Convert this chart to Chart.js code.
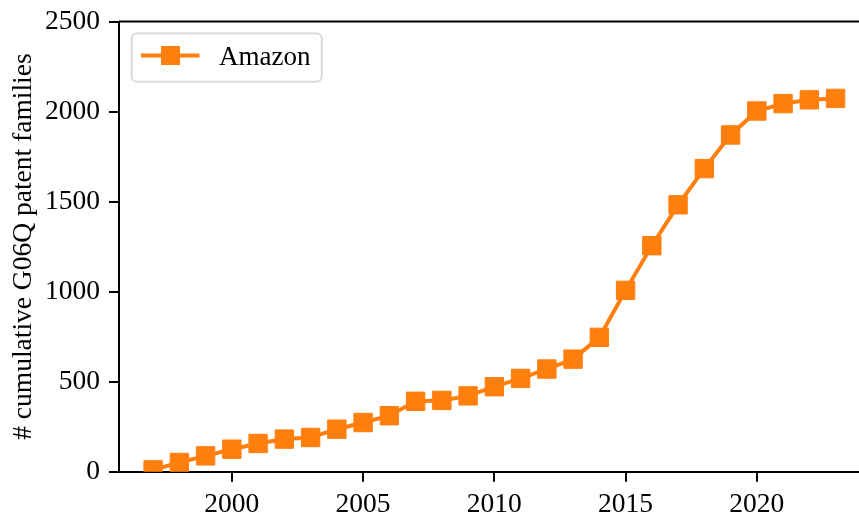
<!DOCTYPE html>
<html><head><meta charset="utf-8">
<script src="https://cdn.jsdelivr.net/npm/chart.js@4/dist/chart.umd.min.js"></script>
<style>
html,body{margin:0;padding:0;background:#fff;overflow:hidden;width:859px;height:515px}
#wrap{position:absolute;left:0;top:0;width:900px;height:515px}
</style></head><body>
<div id="wrap"><canvas id="c" width="900" height="515"></canvas></div>
<script>
// ---- data ----
const years = [1997,1998,1999,2000,2001,2002,2003,2004,2005,2006,2007,2008,2009,2010,2011,2012,2013,2014,2015,2016,2017,2018,2019,2020,2021,2022,2023];
const amazon = [10,51,88,125,157,181,190,236,273,311,391,396,421,472,518,570,625,746,1007,1255,1482,1683,1870,2003,2044,2065,2073];
const seriesName = 'Amazon';
const xTickValues = [2000,2005,2010,2015,2020];
const yTickValues = [0,500,1000,1500,2000,2500];
const yTitle = '# cumulative G06Q patent families';

const ORANGE = '#ff7f0e';
const FONT = "'Liberation Serif','Times New Roman','DejaVu Serif',serif";

const framePlugin = {
  id: 'frame',
  afterDatasetsDraw(chart) {
    const {ctx, chartArea: a} = chart;
    ctx.save();
    ctx.strokeStyle = '#000';
    ctx.lineWidth = 2;
    ctx.beginPath();
    ctx.moveTo(a.left, a.top);
    ctx.lineTo(a.right, a.top);
    ctx.stroke();
    ctx.restore();
  }
};

const legendPlugin = {
  id: 'boxLegend',
  afterDraw(chart) {
    const ctx = chart.ctx;
    const ds = chart.data.datasets[0];
    const x = 131.7, y = 33.3, w = 190, h = 48.4, r = 5;
    ctx.save();
    ctx.fillStyle = 'rgba(255,255,255,0.8)';
    ctx.strokeStyle = '#d6d6d6';
    ctx.lineWidth = 1.8;
    ctx.beginPath();
    ctx.roundRect(x, y, w, h, r);
    ctx.fill();
    ctx.stroke();
    ctx.strokeStyle = ds.borderColor;
    ctx.lineWidth = ds.borderWidth;
    ctx.beginPath();
    ctx.moveTo(141, 55.5);
    ctx.lineTo(199.5, 55.5);
    ctx.stroke();
    ctx.fillStyle = ds.backgroundColor;
    ctx.fillRect(170.5 - 9.5, 55.5 - 9.5, 19, 19);
    ctx.fillStyle = '#000';
    ctx.font = '27px ' + FONT;
    ctx.textBaseline = 'alphabetic';
    ctx.textAlign = 'left';
    ctx.fillText(ds.label, 219, 65);
    ctx.restore();
  }
};

new Chart(document.getElementById('c'), {
  type: 'line',
  data: {
    datasets: [{
      label: seriesName,
      data: years.map((yr, i) => ({x: yr, y: amazon[i]})),
      borderColor: ORANGE,
      backgroundColor: ORANGE,
      borderWidth: 4,
      pointStyle: 'rect',
      pointRadius: 13,
      pointBorderWidth: 1,
      pointBorderColor: ORANGE,
      pointBackgroundColor: ORANGE,
      tension: 0,
      clip: 0
    }]
  },
  options: {
    responsive: false,
    animation: false,
    devicePixelRatio: 1,
    layout: {autoPadding: false, padding: {left: 0, right: 30.3, top: 21.5, bottom: 0}},
    plugins: {legend: {display: false}, tooltip: {enabled: false}},
    scales: {
      x: {
        type: 'linear',
        min: 1995.7,
        max: 2024.3,
        afterBuildTicks(s) { s.ticks = xTickValues.map(v => ({value: v})); },
        afterFit(s) { s.height = 43.3; s.paddingLeft = 0; s.paddingRight = 0; },
        grid: {display: true, drawOnChartArea: false, drawTicks: true, tickLength: 10, color: '#000', lineWidth: 2},
        border: {display: true, color: '#000', width: 2},
        ticks: {
          color: '#000', padding: 7, maxRotation: 0, autoSkip: false,
          font: {family: FONT, size: 27.5},
          callback: v => String(v)
        }
      },
      y: {
        min: 0,
        max: 2500,
        afterBuildTicks(s) { s.ticks = yTickValues.map(v => ({value: v})); },
        afterFit(s) { s.width = 119; s.paddingTop = 0; s.paddingBottom = 0; },
        grid: {display: true, drawOnChartArea: false, drawTicks: true, tickLength: 10, color: '#000', lineWidth: 2},
        border: {display: true, color: '#000', width: 2},
        ticks: {
          color: '#000', padding: 9,
          font: {family: FONT, size: 27.5},
          callback: v => String(v)
        },
        title: {
          display: true, text: yTitle, color: '#000',
          font: {family: FONT, size: 27.5}, padding: {top: 7, bottom: 4}
        }
      }
    }
  },
  plugins: [framePlugin, legendPlugin]
});
</script>
</body></html>
